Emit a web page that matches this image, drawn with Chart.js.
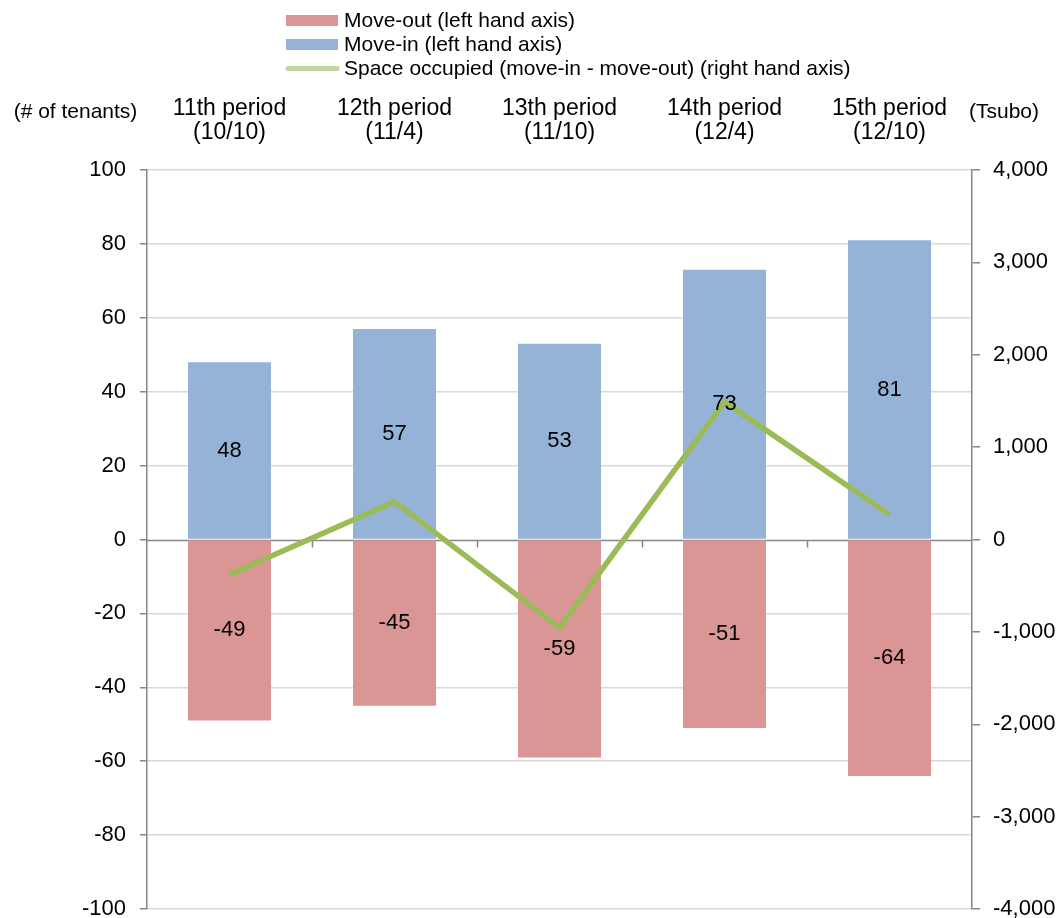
<!DOCTYPE html>
<html>
<head>
<meta charset="utf-8">
<script src="https://cdn.jsdelivr.net/npm/chart.js@4.4.0/dist/chart.umd.min.js"></script>
<style>
  html, body { margin: 0; padding: 0; background: #fff; }
  #wrap { width: 1061px; height: 918px; }
</style>
</head>
<body>
<div id="wrap"><canvas id="tenantChart" width="1061" height="918"></canvas></div>
<script>
// chart values
var periods = [
    ['11th period', '(10/10)'],
    ['12th period', '(11/4)'],
    ['13th period', '(11/10)'],
    ['14th period', '(12/4)'],
    ['15th period', '(12/10)']
]
var moveOut = [-49, -45, -59, -51, -64]
var moveIn = [48, 57, 53, 73, 81]
var spaceOccupied = [-380, 410, -955, 1490, 270]

var FONT = 'Arial, "Liberation Sans", sans-serif'
var axisGray = '#868686'

// custom legend, axis titles, zero line and bar value labels
var extras = {
    id: 'extras',
    beforeDatasetsDraw: function(chart) {
        var c = chart.ctx, y = chart.scales.y
        var zy = Math.round(y.getPixelForValue(0)) + 0.5
        c.save()
        c.strokeStyle = axisGray
        c.lineWidth = 1.5
        c.beginPath()
        c.moveTo(chart.chartArea.left, zy)
        c.lineTo(chart.chartArea.right, zy)
        var step = (chart.chartArea.right - chart.chartArea.left) / periods.length
        for (var i = 1; i < periods.length; i++) {
            var tx = Math.round(chart.chartArea.left + step * i) + 0.5
            c.moveTo(tx, zy)
            c.lineTo(tx, zy + 7)
        }
        c.stroke()
        c.restore()
    },
    afterDatasetsDraw: function(chart) {
        var c = chart.ctx
        c.save()
        c.fillStyle = '#000'
        c.font = '22px ' + FONT
        c.textAlign = 'center'
        c.textBaseline = 'middle'
        ;[0, 1].forEach(function(di) {
            chart.getDatasetMeta(di).data.forEach(function(bar, i) {
                var v = chart.data.datasets[di].data[i]
                var cy = (bar.y + bar.base) / 2
                c.fillText(String(v), bar.x, cy)
            })
        })

        // legend
        var lx = 286, rows = [20.5, 44.5, 68.5]
        c.textAlign = 'left'
        c.font = '21px ' + FONT
        chart.data.datasets.forEach(function(ds, i) {
            if (ds.type === 'line') {
                c.strokeStyle = '#C3D69B'
                c.lineWidth = 5
                c.lineCap = 'round'
                c.beginPath()
                c.moveTo(lx + 2, rows[i])
                c.lineTo(lx + 51, rows[i])
                c.stroke()
            } else {
                c.fillStyle = ds.backgroundColor
                c.fillRect(lx, rows[i] - 5.5, 52, 11)
            }
            c.fillStyle = '#000'
            c.fillText(ds.label, lx + 58, rows[i] + 1)
        })

        // axis unit titles
        c.textAlign = 'center'
        c.fillText('(# of tenants)', 75.5, 112)
        c.fillText('(Tsubo)', 1004, 112)
        c.restore()
    }
}

function noOverhang(s) {
    s.paddingTop = 0
    s.paddingBottom = 0
}

var ctx = document.getElementById('tenantChart').getContext('2d')
var chart = new Chart(ctx, {
    type: 'bar',
    data: {
        labels: periods,
        datasets: [{
            label: 'Move-out (left hand axis)',
            data: moveOut,
            backgroundColor: '#DA9694',
            yAxisID: 'y',
            grouped: false,
            order: 2
        }, {
            label: 'Move-in (left hand axis)',
            data: moveIn,
            backgroundColor: '#95B3D7',
            yAxisID: 'y',
            grouped: false,
            order: 2
        }, {
            type: 'line',
            label: 'Space occupied (move-in - move-out) (right hand axis)',
            data: spaceOccupied,
            borderColor: '#9BBB59',
            borderWidth: 5.5,
            pointRadius: 0,
            tension: 0,
            yAxisID: 'y1',
            order: 1
        }]
    },
    options: {
        responsive: false,
        animation: false,
        layout: { padding: { top: 0, bottom: 9, left: 0, right: 0 } },
        categoryPercentage: 1,
        barPercentage: 0.503,
        plugins: {
            legend: { display: false },
            tooltip: { enabled: false }
        },
        scales: {
            x: {
                position: 'top',
                grid: { display: false, drawTicks: false },
                border: { display: false },
                ticks: {
                    color: '#000',
                    font: { family: FONT, size: 23, lineHeight: 1.02 },
                    padding: 26,
                    maxRotation: 0
                },
                afterFit: function(s) { s.height = 170 }
            },
            y: {
                position: 'left',
                min: -100,
                max: 100,
                ticks: {
                    stepSize: 20,
                    color: '#000',
                    font: { family: FONT, size: 22 },
                    padding: 14
                },
                grid: {
                    color: function(c) { return c.tick && c.tick.value === 0 ? 'rgba(0,0,0,0)' : '#D9D9D9' },
                    lineWidth: 1.5,
                    tickLength: 7,
                    tickColor: axisGray
                },
                border: { color: axisGray, width: 1.5 },
                afterFit: function(s) { s.width = 147; noOverhang(s) }
            },
            y1: {
                position: 'right',
                min: -4000,
                max: 4000,
                ticks: {
                    stepSize: 1000,
                    color: '#000',
                    font: { family: FONT, size: 22 },
                    padding: 13,
                    callback: function(v) { return v.toLocaleString('en-US') }
                },
                grid: {
                    drawOnChartArea: false,
                    tickLength: 8,
                    tickColor: axisGray,
                    lineWidth: 1.5
                },
                border: { color: axisGray, width: 1.5 },
                afterFit: function(s) { s.width = 89; noOverhang(s) }
            }
        }
    },
    plugins: [extras]
})
</script>
</body>
</html>
